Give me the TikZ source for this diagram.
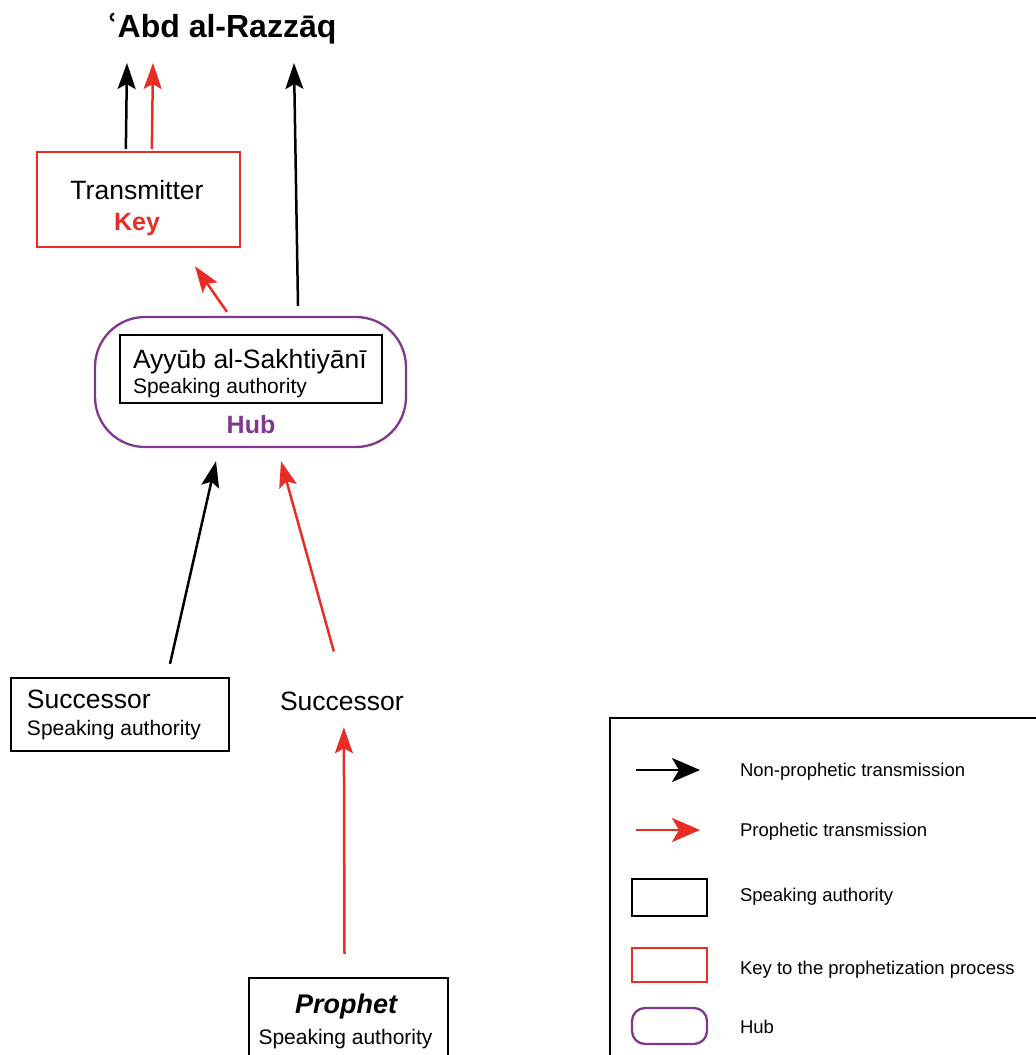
\documentclass[tikz,border=0pt]{standalone}
\usepackage{fontspec}
\setmainfont{Liberation Sans}
\newfontfamily\dvs{DejaVu Sans}
\usetikzlibrary{arrows.meta,calc}
\definecolor{kred}{RGB}{232,45,38}
\definecolor{hubp}{RGB}{128,56,142}
\newcommand\myfs[1]{\fontsize{#1}{#1}\selectfont}
\begin{document}
\begin{tikzpicture}[x=1pt,y=-1pt,
  txt/.style={inner sep=0pt, outer sep=0pt},
  big/.style={txt, font=\myfs{26.5}},
  small/.style={txt, font=\myfs{21}},
  leg/.style={txt, anchor=base west, font=\myfs{18.5}},
  tipk/.style={-{Stealth[length=26pt,width=18pt,inset=5pt]}},
  tipl/.style={-{Stealth[length=28pt,width=24pt,inset=7pt]}},
  blkarr/.style={draw=black, line width=2.5pt, tipk},
  redarr/.style={draw=kred, line width=2.5pt, tipk},
  sabox/.style={draw=black, line width=2.3pt, inner sep=0pt, fill=none},
  keybox/.style={draw=kred, line width=2.3pt, inner sep=0pt},
  hubbox/.style={draw=hubp, line width=2.3pt, inner sep=0pt}]
\useasboundingbox (0,0) rectangle (1036,1055);
\clip (0,0) rectangle (1036,1055);

% title
\node[txt, anchor=base west, font=\myfs{32}\bfseries] (title) at (106,37) {{\dvs ʿ}Abd al-Razzāq};

% transmitter (key)
\node[keybox, minimum width=203pt, minimum height=95pt] (trans) at (138.5,199.5) {};
\node[big, anchor=base] (transT) at (137,199) {Transmitter};
\node[big, anchor=base, font=\myfs{25}\bfseries, text=kred] (transK) at (137,230) {Key};

% hub
\node[hubbox, rounded corners=50pt, minimum width=311pt, minimum height=130pt] (hub) at (250.5,382) {};
\node[sabox, minimum width=262pt, minimum height=68pt] (ayb) at (251,369) {};
\node[big, anchor=base west] (aybT) at (133,368) {Ayyūb al-Sakhtiyānī};
\node[small, anchor=base west] (aybS) at (133,393) {Speaking authority};
\node[txt, anchor=base, font=\myfs{25}\bfseries, text=hubp] (hubT) at (251,433) {Hub};

% successors
\node[sabox, minimum width=218pt, minimum height=73pt] (suc1) at (120,714.5) {};
\node[big, anchor=base west] (suc1T) at (27,708) {Successor};
\node[small, anchor=base west] (suc1S) at (27,735) {Speaking authority};
\node[big, anchor=base west] (suc2) at (280,710) {Successor};

% prophet
\node[sabox, minimum width=199pt, minimum height=100pt] (proph) at (348.5,1028) {};
\node[txt, anchor=base, font=\myfs{27}\bfseries\itshape] (prophT) at (346,1013) {Prophet};
\node[txt, anchor=base, font=\myfs{21}] (prophS) at (345.5,1044) {Speaking authority};

% arrow end points near the title
\coordinate (tA) at (127,63);
\coordinate (tB) at (153,63);
\coordinate (tC) at (294,63);

% connectors
\draw[blkarr] ($(trans.north west)+(90,-2)$) -- (tA);
\draw[redarr] ($(trans.north west)+(116,-2)$) -- (tB);
\draw[blkarr] ($(hub.north)+(47.5,-10)$) -- (tC);
\draw[redarr] ($(hub.north)+(-23.5,-4)$) -- ($(trans.south)+(56.5,18)$);
\draw[blkarr] ($(suc1.north)+(50,-13)$) -- ($(hub.south)+(-34.5,13)$);
\draw[redarr] ($(suc2.north)+(-8,-40)$) -- ($(hub.south)+(30.5,13)$);
\draw[redarr] ($(proph.north)+(-4,-23)$) -- ($(suc2.south)+(2,17)$);

% legend
\node[sabox, minimum width=450pt, minimum height=352pt] (legend) at (835,894) {};
\coordinate (l1a) at (636,770); \coordinate (l1b) at (700,770);
\coordinate (l2a) at (636,830); \coordinate (l2b) at (700,830);
\draw[blkarr, tipl] (l1a) -- (l1b);
\draw[redarr, tipl] (l2a) -- (l2b);
\node[sabox, minimum width=75pt, minimum height=37pt] (lsa) at (669.5,897.5) {};
\node[keybox, minimum width=75pt, minimum height=34pt] (lkey) at (669.5,965) {};
\node[hubbox, rounded corners=13pt, minimum width=75pt, minimum height=36pt] (lhub) at (669.5,1026) {};
\node[leg] (lt1) at (740,776) {Non-prophetic transmission};
\node[leg] (lt2) at (740,836) {Prophetic transmission};
\node[leg] (lt3) at (740,901) {Speaking authority};
\node[leg] (lt4) at (740,974) {Key to the prophetization process};
\node[leg] (lt5) at (740,1033) {Hub};
\end{tikzpicture}
\end{document}
